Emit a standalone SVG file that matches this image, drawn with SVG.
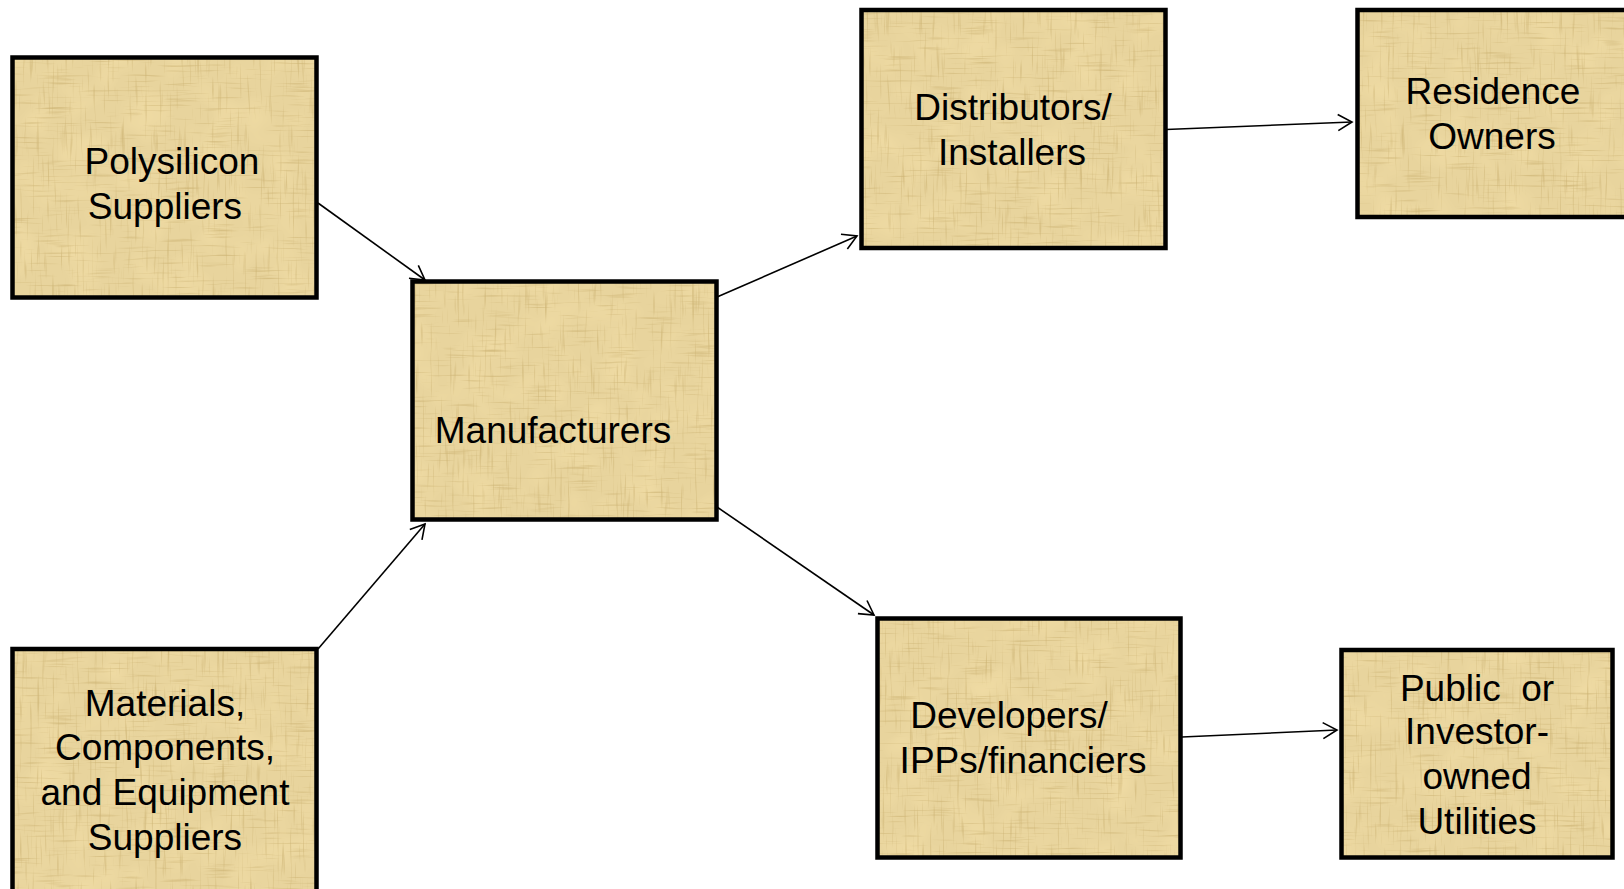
<svg xmlns="http://www.w3.org/2000/svg" width="1624" height="889" viewBox="0 0 1624 889">
  <defs>
    <style>
      .box { fill: #E8D49D; stroke: none; filter: url(#burlap); }
      .frame { fill: none; stroke: #000; stroke-width: 4.5; }
      .label { font-family: "Liberation Sans", Arial, sans-serif; font-size: 37px; fill: #000; text-anchor: middle; }
      .link { fill: none; stroke: #000; stroke-width: 1.6; marker-end: url(#open-arrow); }
    </style>
    <!-- woven burlap look: soft darker warp/weft threads over a light tan base -->
    <filter id="burlap" x="0" y="0" width="100%" height="100%" color-interpolation-filters="sRGB">
      <feTurbulence type="fractalNoise" baseFrequency="0.4 0.025" numOctaves="2" seed="3" result="vert"/>
      <feColorMatrix in="vert" type="matrix" values="0 0 0 0 0.8  0 0 0 0 0.7  0 0 0 0 0.45  2.2 0 0 0 -1.3" result="warp"/>
      <feTurbulence type="fractalNoise" baseFrequency="0.025 0.4" numOctaves="2" seed="11" result="horiz"/>
      <feColorMatrix in="horiz" type="matrix" values="0 0 0 0 0.8  0 0 0 0 0.7  0 0 0 0 0.45  2.2 0 0 0 -1.3" result="weft"/>
      <feTurbulence type="fractalNoise" baseFrequency="0.03" numOctaves="2" seed="4" result="mottle"/>
      <feColorMatrix in="mottle" type="matrix" values="0 0 0 0 0.96  0 0 0 0 0.88  0 0 0 0 0.66  1.2 0 0 0 -0.5" result="tint"/>
      <feComposite in="tint" in2="SourceGraphic" operator="atop" result="base"/>
      <feComposite in="warp" in2="base" operator="atop" result="b2"/>
      <feComposite in="weft" in2="b2" operator="atop" result="b3"/>
      <feGaussianBlur in="b3" stdDeviation="0.5"/>
    </filter>
    <marker id="open-arrow" markerUnits="userSpaceOnUse" markerWidth="20" markerHeight="20" viewBox="-2 -10 18 20" refX="14" refY="0" orient="auto" overflow="visible">
      <path d="M0,-8 L14,0 L0,8" fill="none" stroke="#000" stroke-width="1.6"/>
    </marker>
  </defs>

  <rect width="1624" height="889" fill="#fff"/>

  <!-- connectors -->
  <g id="connectors">
    <line class="link" x1="318" y1="203" x2="425" y2="280"/>
    <line class="link" x1="318" y1="649" x2="425" y2="524"/>
    <line class="link" x1="717" y1="297" x2="857" y2="236"/>
    <line class="link" x1="717" y1="507" x2="874" y2="615"/>
    <line class="link" x1="1166" y1="129.5" x2="1352" y2="122"/>
    <line class="link" x1="1182" y1="737" x2="1337" y2="730"/>
  </g>

  <g id="polysilicon">
    <rect class="box" x="12.5" y="57.5" width="304" height="240"/>
    <rect class="frame" x="12.5" y="57.5" width="304" height="240"/>
    <text class="label" x="172" y="174">Polysilicon</text>
    <text class="label" x="165" y="219">Suppliers</text>
  </g>

  <g id="materials">
    <rect class="box" x="12.5" y="649" width="304" height="260"/>
    <rect class="frame" x="12.5" y="649" width="304" height="260"/>
    <text class="label" x="165" y="716">Materials,</text>
    <text class="label" x="165" y="760">Components,</text>
    <text class="label" x="165" y="805">and Equipment</text>
    <text class="label" x="165" y="850">Suppliers</text>
  </g>

  <g id="manufacturers">
    <rect class="box" x="412.5" y="281.5" width="304" height="238"/>
    <rect class="frame" x="412.5" y="281.5" width="304" height="238"/>
    <text class="label" x="553" y="443">Manufacturers</text>
  </g>

  <g id="distributors">
    <rect class="box" x="861.5" y="10" width="304" height="238"/>
    <rect class="frame" x="861.5" y="10" width="304" height="238"/>
    <text class="label" x="1013" y="120">Distributors/</text>
    <text class="label" x="1012" y="165">Installers</text>
  </g>

  <g id="residence">
    <rect class="box" x="1357.5" y="10" width="300" height="207"/>
    <rect class="frame" x="1357.5" y="10" width="300" height="207"/>
    <text class="label" x="1493" y="104">Residence</text>
    <text class="label" x="1492" y="149">Owners</text>
  </g>

  <g id="developers">
    <rect class="box" x="877.5" y="618.5" width="303" height="239"/>
    <rect class="frame" x="877.5" y="618.5" width="303" height="239"/>
    <text class="label" x="1009" y="728">Developers/</text>
    <text class="label" x="1023" y="773">IPPs/financiers</text>
  </g>

  <g id="utilities">
    <rect class="box" x="1341.5" y="650" width="271" height="207.5"/>
    <rect class="frame" x="1341.5" y="650" width="271" height="207.5"/>
    <text class="label" x="1477" y="701" xml:space="preserve">Public  or</text>
    <text class="label" x="1477" y="744">Investor-</text>
    <text class="label" x="1477" y="789">owned</text>
    <text class="label" x="1477" y="834">Utilities</text>
  </g>
</svg>
